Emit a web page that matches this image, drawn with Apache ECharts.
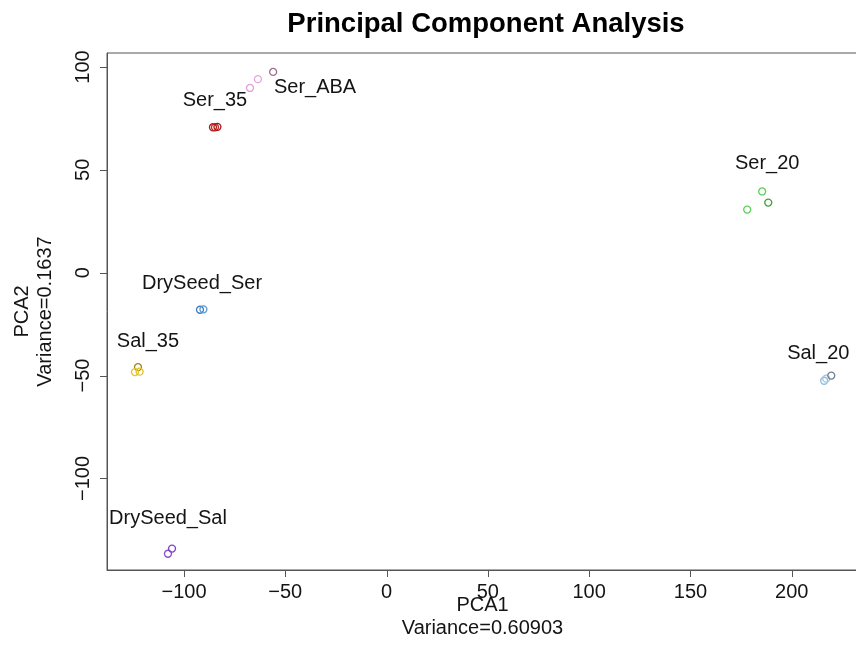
<!DOCTYPE html>
<html>
<head>
<meta charset="utf-8">
<script src="https://cdn.jsdelivr.net/npm/echarts@6/dist/echarts.min.js"></script>
<style>
  html, body { margin: 0; padding: 0; background: #fff; }
  #chart { width: 856px; height: 645px; }
</style>
</head>
<body>
<div id="chart"></div>
<script>
// Sample groups and their PCA scores (PC1, PC2)
const groups = ["Ser_ABA", "Ser_35", "Ser_20", "Sal_20", "Sal_35", "DrySeed_Ser", "DrySeed_Sal"];

const pc1 = {
  Ser_ABA:     [-56.0, -63.5, -67.4],
  Ser_35:      [-85.7, -84.7, -83.5],
  Ser_20:      [185.4, 188.4, 178.0],
  Sal_20:      [216.0, 217.0, 219.5],
  Sal_35:      [-122.7, -124.2, -121.9],
  DrySeed_Ser: [-92.1, -90.4],
  DrySeed_Sal: [-107.9, -105.9]
};
const pc2 = {
  Ser_ABA:     [97.6, 94.1, 89.8],
  Ser_35:      [70.7, 70.7, 70.9],
  Ser_20:      [39.5, 34.1, 30.7],
  Sal_20:      [-52.5, -51.5, -50.0],
  Sal_35:      [-45.9, -48.3, -48.1],
  DrySeed_Ser: [-18.0, -17.8],
  DrySeed_Sal: [-136.6, -134.1]
};

// Where each group's name is written (data units)
const labelX = [-35.3, -84.7, 187.9, 213.1, -117.8, -91.1, -107.9];
const labelY = [89.8, 83.9, 53.2, -39.5, -33.2, -5.4, -119.5];

// Axis ranges and tick values
const xRange = [-138, 232.7];
const yRange = [-144.5, 106.8];
const xTickValues = [-100, -50, 0, 50, 100, 150, 200];
const yTickValues = [-100, -50, 0, 50, 100];

// Outline colour of every sample circle, per group
const pointColors = {
  Ser_ABA:     ["#9e6f8c", "#e6a6dc", "#e3a0da"],
  Ser_35:      ["#b01f1f", "#c52a2a", "#a51818"],
  Ser_20:      ["#5ccf5c", "#3f9f3f", "#5ccf5c"],
  Sal_20:      ["#8fbde0", "#9cc8e8", "#6f7f8f"],
  Sal_35:      ["#9a8b1c", "#e3c52a", "#e0c22a"],
  DrySeed_Ser: ["#3f7fbf", "#5b9ad6"],
  DrySeed_Sal: ["#8a4fd0", "#7a45c0"]
};

const font = "'Liberation Sans', Arial, Helvetica, sans-serif";
const textColor = "#141414";
const frameColor = "#555";
const tickLen = 7;

// Negative tick values are written with a true minus sign
const tickFormatter = v => (v < 0 ? "\u2212" + Math.abs(v) : String(v));

const pointSeries = groups.map(g => ({
  name: g,
  type: "scatter",
  symbol: "circle",
  symbolSize: 7,
  silent: true,
  data: pc1[g].map((x, i) => ({
    value: [x, pc2[g][i]],
    itemStyle: { opacity: 1, color: "rgba(0,0,0,0)", borderColor: pointColors[g][i], borderWidth: 1.3 }
  }))
}));

const labelSeries = {
  type: "scatter",
  symbolSize: 0,
  silent: true,
  itemStyle: { opacity: 1 },
  data: groups.map((g, i) => ({ name: g, value: [labelX[i], labelY[i]] })),
  label: {
    show: true,
    position: "inside",
    formatter: p => p.name,
    fontFamily: font,
    fontSize: 20,
    color: textColor
  }
};

// Outward tick marks on the bottom and left edges of the frame
const crisp = v => Math.round(v) + 0.5;
const xTickSeries = {
  type: "custom",
  silent: true,
  clip: false,
  data: xTickValues.map(v => [v, yRange[0]]),
  renderItem: (params, api) => {
    const p = api.coord([api.value(0), api.value(1)]);
    const x = crisp(p[0]);
    return { type: "line", shape: { x1: x, y1: p[1], x2: x, y2: p[1] + tickLen }, style: { stroke: frameColor, lineWidth: 1 } };
  }
};
const yTickSeries = {
  type: "custom",
  silent: true,
  clip: false,
  data: yTickValues.map(v => [xRange[0], v]),
  renderItem: (params, api) => {
    const p = api.coord([api.value(0), api.value(1)]);
    const y = crisp(p[1]);
    return { type: "line", shape: { x1: p[0], y1: y, x2: p[0] - tickLen, y2: y }, style: { stroke: frameColor, lineWidth: 1 } };
  }
};

const axisCommon = {
  type: "value",
  nameLocation: "middle",
  nameMoveOverlap: false,
  nameTextStyle: { fontFamily: font, fontSize: 20, color: textColor, lineHeight: 23 },
  axisLine: { show: true, onZero: false, lineStyle: { color: frameColor, width: 1 } },
  axisTick: { show: false },
  splitLine: { show: false }
};

const chart = echarts.init(document.getElementById("chart"), null, { renderer: "canvas" });

chart.setOption({
  animation: false,
  backgroundColor: "#ffffff",
  title: {
    text: "Principal Component Analysis",
    left: 481,
    top: 5,
    textAlign: "center",
    textStyle: { fontFamily: font, fontSize: 27.5, fontWeight: "bold", color: "#000" }
  },
  grid: {
    left: 107, top: 53, right: -2, bottom: 75,
    outerBoundsMode: "none",
    containLabel: false,
    show: true, borderColor: frameColor, borderWidth: 1, backgroundColor: "transparent"
  },
  xAxis: Object.assign({}, axisCommon, {
    min: xRange[0],
    max: xRange[1],
    name: "PCA1\nVariance=0.60903",
    nameGap: 24,
    axisLabel: { fontFamily: font, fontSize: 20, color: textColor, margin: 12, customValues: xTickValues, formatter: tickFormatter }
  }),
  yAxis: Object.assign({}, axisCommon, {
    min: yRange[0],
    max: yRange[1],
    name: "PCA2\nVariance=0.1637",
    nameGap: 50,
    axisLabel: { fontFamily: font, fontSize: 20, color: textColor, margin: 14, rotate: 90, customValues: yTickValues, formatter: tickFormatter }
  }),
  series: [...pointSeries, labelSeries, xTickSeries, yTickSeries]
});
</script>
</body>
</html>
